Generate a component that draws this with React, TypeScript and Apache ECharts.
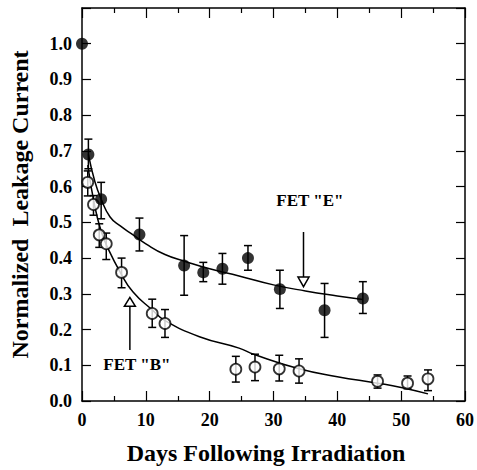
import React, { useEffect, useRef } from "react";
import * as echarts from "echarts";

// FET "E" (filled circles)
const daysE = [0, 1, 3, 9, 16, 19, 22, 26, 31, 38, 44];
const currentE = [1.0, 0.69, 0.565, 0.466, 0.379, 0.36, 0.37, 0.4, 0.313, 0.254, 0.287];
const lowE = [null, 0.65, 0.51, 0.42, 0.296, 0.334, 0.327, 0.366, 0.259, 0.178, 0.245];
const highE = [null, 0.733, 0.612, 0.512, 0.463, 0.388, 0.413, 0.435, 0.366, 0.329, 0.334];

// FET "B" (open circles)
const daysB = [0.9, 1.8, 2.7, 3.8, 6.2, 11, 13, 24.1, 27.1, 30.9, 34, 46.3, 51, 54.2];
const currentB = [0.612, 0.55, 0.465, 0.44, 0.36, 0.245, 0.217, 0.089, 0.095, 0.09, 0.084, 0.055, 0.05, 0.062];
const lowB = [0.574, 0.52, 0.43, 0.396, 0.317, 0.206, 0.178, 0.053, 0.057, 0.056, 0.05, 0.036, 0.034, 0.029];
const highB = [0.644, 0.575, 0.496, 0.47, 0.4, 0.285, 0.256, 0.125, 0.131, 0.128, 0.118, 0.073, 0.07, 0.087];

// fitted curves
const fitEDays = [1, 2, 3, 4.4, 6, 8, 10, 13, 16.3, 20, 24.6, 30, 35, 40, 44];
const fitEValues = [0.69, 0.615, 0.565, 0.515, 0.49, 0.465, 0.44, 0.41, 0.39, 0.37, 0.35, 0.325, 0.308, 0.294, 0.284];
const fitBDays = [0.9, 2, 3, 4, 6, 8, 11, 13, 18.4, 24.6, 27, 34, 40, 46.3, 50, 54.2];
const fitBValues = [0.66, 0.545, 0.475, 0.43, 0.36, 0.305, 0.255, 0.225, 0.18, 0.148, 0.13, 0.09, 0.068, 0.05, 0.038, 0.02];

// annotations
const arrowDays = [34.7, 7.5];
const arrowStart = [0.473, 0.143];
const arrowBase = [0.347, 0.265];
const arrowTip = [0.32, 0.29];
const labelTexts = ['FET "E"', 'FET "B"'];
const labelDays = [35.7, 8.6];
const labelValues = [0.56, 0.101];

const FONT = "Liberation Serif";

export default function App() {
  const ref = useRef<HTMLDivElement>(null);
  useEffect(() => {
    if (!ref.current) return;
    const chart = echarts.init(ref.current, undefined, { renderer: "svg" });

    const errData = (d: number[], lo: (number | null)[], hi: (number | null)[]) =>
      d.map((x, i) => (lo[i] == null ? null : [x, lo[i], hi[i]])).filter((v) => v !== null);

    const errRender = (params: any, api: any) => {
      const x = api.value(0);
      const pLo = api.coord([x, api.value(1)]);
      const pHi = api.coord([x, api.value(2)]);
      const w = 4;
      const st = { stroke: "#000", lineWidth: 1.5 };
      return {
        type: "group",
        children: [
          { type: "line", shape: { x1: pLo[0], y1: pLo[1], x2: pHi[0], y2: pHi[1] }, style: st },
          { type: "line", shape: { x1: pLo[0] - w, y1: pLo[1], x2: pLo[0] + w, y2: pLo[1] }, style: st },
          { type: "line", shape: { x1: pHi[0] - w, y1: pHi[1], x2: pHi[0] + w, y2: pHi[1] }, style: st },
        ],
      };
    };

    const axisCommon = {
      type: "value",
      splitLine: { show: false },
      minorSplitLine: { show: false },
      axisLine: { show: true, onZero: false, lineStyle: { color: "#000", width: 1.5 } },
    };

    const xBase = {
      ...axisCommon,
      min: 0,
      max: 60,
      interval: 10,
      axisTick: { show: true, inside: true, length: 10, lineStyle: { color: "#000", width: 1.2 } },
      minorTick: { show: true, splitNumber: 2, length: 5, lineStyle: { color: "#000", width: 1.2 } },
    };
    const yBase = {
      ...axisCommon,
      min: 0,
      max: 1.1,
      interval: 0.1,
      axisTick: { show: true, inside: true, length: 9, lineStyle: { color: "#000", width: 1.2 } },
    };

    chart.setOption({
      animation: false,
      backgroundColor: "#fff",
      textStyle: { fontFamily: FONT },
      grid: { left: 82, right: 10, top: 8, bottom: 67 },
      xAxis: [
        {
          ...xBase,
          position: "bottom",
          name: "Days Following Irradiation",
          nameLocation: "middle",
          nameGap: 40,
          nameTextStyle: { fontFamily: FONT, fontWeight: "bold", fontSize: 24, color: "#000", padding: [0, 15, 0, 0] },
          axisLabel: { fontFamily: FONT, fontWeight: "bold", fontSize: 18, color: "#000", margin: 10 },
        },
        { ...xBase, position: "top", axisLabel: { show: false } },
      ],
      yAxis: [
        {
          ...yBase,
          position: "left",
          name: "Normalized  Leakage Current",
          nameLocation: "middle",
          nameGap: 50,
          nameTextStyle: { fontFamily: FONT, fontWeight: "bold", fontSize: 24, color: "#000" },
          axisLabel: {
            fontFamily: FONT,
            fontWeight: "bold",
            fontSize: 18,
            color: "#000",
            margin: 10,
            formatter: (v: number) => (v > 1.05 ? "" : v.toFixed(1)),
          },
        },
        { ...yBase, position: "right", axisLabel: { show: false } },
      ],
      series: [
        { type: "custom", renderItem: errRender, data: errData(daysE, lowE, highE), z: 2, clip: false },
        { type: "custom", renderItem: errRender, data: errData(daysB, lowB, highB), z: 2, clip: false },
        {
          type: "line",
          data: fitEDays.map((d, i) => [d, fitEValues[i]]),
          smooth: true,
          showSymbol: false,
          lineStyle: { color: "#000", width: 1.5 },
          z: 3,
        },
        {
          type: "line",
          data: fitBDays.map((d, i) => [d, fitBValues[i]]),
          smooth: true,
          showSymbol: false,
          lineStyle: { color: "#000", width: 1.5 },
          z: 3,
        },
        {
          type: "scatter",
          data: daysB.map((d, i) => [d, currentB[i]]),
          symbol: "circle",
          symbolSize: 11,
          itemStyle: { color: "#fff", borderColor: "#000", borderWidth: 1.8 },
          z: 4,
          clip: false,
        },
        {
          type: "scatter",
          data: daysE.map((d, i) => [d, currentE[i]]),
          symbol: "circle",
          symbolSize: 12,
          itemStyle: { color: "#000" },
          z: 5,
          clip: false,
        },
        {
          type: "custom",
          data: arrowDays.map((d, i) => [d, arrowStart[i], arrowBase[i], arrowTip[i]]),
          z: 6,
          renderItem: (params: any, api: any) => {
            const x = api.value(0);
            const pS = api.coord([x, api.value(1)]);
            const pB = api.coord([x, api.value(2)]);
            const pT = api.coord([x, api.value(3)]);
            const hw = 5.5;
            return {
              type: "group",
              children: [
                { type: "line", shape: { x1: pS[0], y1: pS[1], x2: pB[0], y2: pB[1] }, style: { stroke: "#000", lineWidth: 1.5 } },
                {
                  type: "polygon",
                  shape: { points: [[pB[0] - hw, pB[1]], [pB[0] + hw, pB[1]], [pT[0], pT[1]]] },
                  style: { fill: "#fff", stroke: "#000", lineWidth: 1.5 },
                },
              ],
            };
          },
        },
        {
          type: "custom",
          data: labelDays.map((d, i) => [d, labelValues[i]]),
          z: 6,
          renderItem: (params: any, api: any) => {
            const p = api.coord([api.value(0), api.value(1)]);
            return {
              type: "text",
              x: p[0],
              y: p[1],
              style: {
                text: labelTexts[params.dataIndex],
                fontFamily: FONT,
                fontWeight: "bold",
                fontSize: 17,
                fill: "#000",
                align: "center",
                verticalAlign: "middle",
              },
            };
          },
        },
      ],
    });
    return () => chart.dispose();
  }, []);
  return <div ref={ref} style={{ width: 477, height: 470, position: "absolute", left: 0, top: 0 }} />;
}
